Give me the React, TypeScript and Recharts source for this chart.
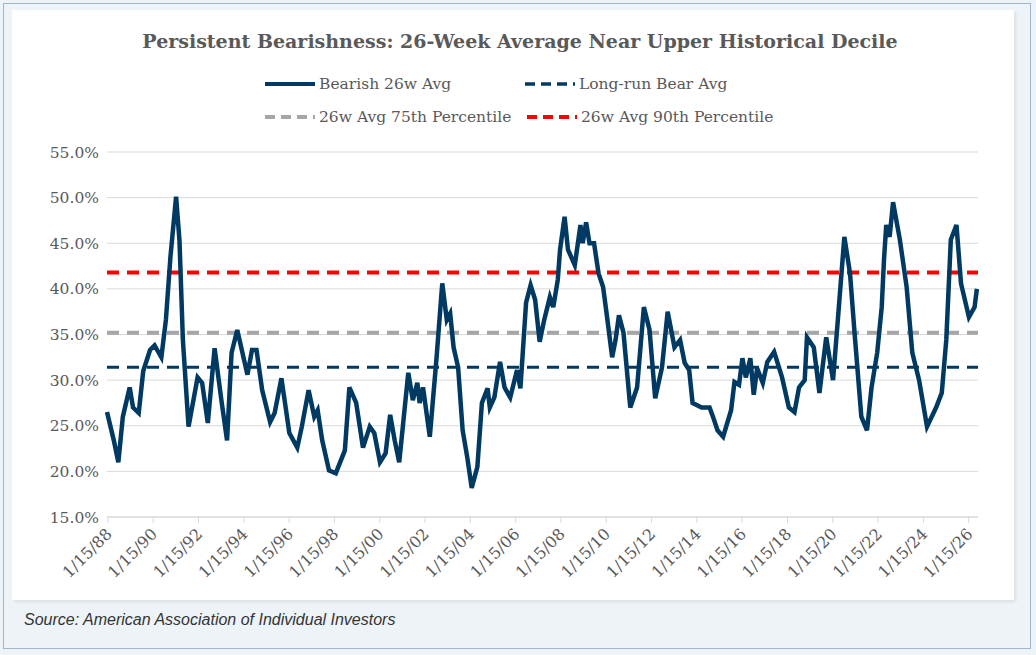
import React from "react";
import {
  CartesianGrid,
  Line,
  LineChart,
  ReferenceLine,
  XAxis,
  YAxis,
} from "recharts";

// dates as fractional years, values in %
const years = [
  1988.0, 1988.3, 1988.5, 1988.7, 1989.0, 1989.15, 1989.4, 1989.6, 1989.9, 1990.1,
  1990.4, 1990.6, 1990.8, 1991.05, 1991.2, 1991.35, 1991.6, 1992.0, 1992.2, 1992.45,
  1992.75, 1993.05, 1993.3, 1993.5, 1993.75, 1994.2, 1994.4, 1994.6, 1994.85, 1995.2,
  1995.4, 1995.7, 1996.05, 1996.4, 1996.6, 1996.9, 1997.15, 1997.3, 1997.5, 1997.8,
  1998.1, 1998.5, 1998.7, 1999.0, 1999.3, 1999.6, 1999.8, 2000.05, 2000.3, 2000.5,
  2000.7, 2000.9, 2001.3, 2001.5, 2001.7, 2001.8, 2001.95, 2002.25, 2002.55, 2002.8,
  2003.0, 2003.15, 2003.3, 2003.5, 2003.7, 2003.9, 2004.1, 2004.35, 2004.55, 2004.8,
  2004.9, 2005.1, 2005.35, 2005.55, 2005.8, 2006.1, 2006.25, 2006.5, 2006.7, 2006.9,
  2007.1, 2007.3, 2007.55, 2007.7, 2007.9, 2008.0, 2008.2, 2008.35, 2008.65, 2008.9,
  2009.0, 2009.15, 2009.3, 2009.5, 2009.7, 2009.9, 2010.05, 2010.3, 2010.45, 2010.6,
  2010.8, 2011.1, 2011.4, 2011.7, 2011.95, 2012.2, 2012.5, 2012.75, 2013.05, 2013.3,
  2013.5, 2013.7, 2013.85, 2014.25, 2014.6, 2014.75, 2014.95, 2015.2, 2015.55, 2015.7,
  2015.9, 2016.05, 2016.2, 2016.4, 2016.55, 2016.7, 2016.95, 2017.15, 2017.45, 2017.8,
  2018.1, 2018.35, 2018.55, 2018.8, 2018.9, 2019.2, 2019.45, 2019.75, 2020.05, 2020.25,
  2020.55, 2020.8, 2021.0, 2021.3, 2021.55, 2021.75, 2022.0, 2022.2, 2022.3, 2022.4,
  2022.55, 2022.7, 2023.0, 2023.3, 2023.55, 2023.85, 2024.2, 2024.6, 2024.85, 2025.05,
  2025.25, 2025.5, 2025.7, 2026.05, 2026.3, 2026.4,
];
const bearish = [
  26.5, 23.4, 21.0, 26.0, 29.2, 27.0, 26.4, 31.0, 33.3, 33.8,
  32.5, 36.6, 43.5, 50.1, 45.3, 34.4, 24.9, 30.3, 29.7, 25.3,
  33.5, 27.8, 23.4, 33.0, 35.5, 30.6, 33.3, 33.3, 28.9, 25.4,
  26.4, 30.2, 24.2, 22.6, 24.9, 28.9, 26.0, 26.7, 23.4, 20.1,
  19.8, 22.3, 29.2, 27.5, 22.6, 24.9, 24.2, 21.0, 22.0, 26.2,
  23.4, 21.0, 30.8, 27.8, 29.7, 27.5, 29.2, 23.8, 32.5, 40.6,
  36.6, 37.3, 33.6, 31.4, 24.5, 21.6, 18.2, 20.5, 27.5, 29.1,
  27.0, 28.1, 32.0, 29.2, 28.1, 31.1, 29.1, 38.5, 40.4, 38.8,
  34.2, 36.6, 39.1, 38.0, 41.0, 44.3, 47.9, 44.3, 42.6, 47.0,
  45.0, 47.3, 45.0, 45.0, 41.7, 40.2, 37.4, 32.5, 34.4, 37.1,
  35.2, 27.0, 29.2, 38.0, 35.5, 28.0, 31.4, 37.5, 33.6, 34.4,
  31.9, 31.1, 27.5, 27.0, 27.0, 26.0, 24.5, 23.8, 26.7, 29.8,
  29.5, 32.4, 30.3, 32.4, 28.4, 31.3, 29.7, 32.0, 33.1, 30.3,
  27.0, 26.5, 29.2, 30.0, 34.7, 33.6, 28.6, 34.7, 30.0, 36.2,
  45.7, 41.7, 35.2, 26.0, 24.5, 29.2, 33.0, 38.0, 43.2, 47.0,
  45.7, 49.5, 45.4, 40.2, 33.0, 30.0, 24.9, 27.0, 28.6, 34.4,
  45.4, 47.0, 40.6, 36.9, 38.0, 40.0,
];
const longRunAvg = 31.4;
const pct75 = 35.2;
const pct90 = 41.8;
const yTicks = [15, 20, 25, 30, 35, 40, 45, 50, 55];
const xTicks = Array.from({ length: 20 }, (_, i) => 1988.04 + i * 2);

const data = years.map((t, i) => ({ t, v: bearish[i] }));

const NAVY = "#003a63";
const GRAY_TXT = "#595959";
const FONT = "'DejaVu Serif', serif";

function XTick({ x, y, payload }: any) {
  const yy = String(Math.round(payload.value - 0.04) % 100).padStart(2, "0");
  return (
    <text
      x={x + 5}
      y={y + 10}
      transform={`rotate(-45 ${x + 5} ${y + 10})`}
      textAnchor="end"
      fill={GRAY_TXT}
      fontSize={16}
      fontFamily={FONT}
    >
      {`1/15/${yy}`}
    </text>
  );
}

function LegendItem({ x, y, color, dash, width, label }: any) {
  return (
    <g>
      <line x1={x} x2={x + 50} y1={y} y2={y} stroke={color} strokeWidth={width} strokeDasharray={dash} />
      <text x={x + 54} y={y + 5} fill={GRAY_TXT} fontSize={15.5} fontFamily={FONT}>
        {label}
      </text>
    </g>
  );
}

export default function App() {
  return (
    <div style={{ position: "absolute", left: 0, top: 0, width: 1036, height: 655, background: "#eef3f8", fontFamily: FONT }}>
      <div style={{ position: "absolute", left: 3, top: 3, width: 1028, height: 646, border: "1px solid #9fb6cf", boxSizing: "border-box" }} />
      <div style={{ position: "absolute", left: 12, top: 10, width: 1002, height: 590, background: "#ffffff", boxShadow: "2px 2px 3px rgba(0,0,0,0.08)" }}>
        <LineChart
          width={1000}
          height={590}
          data={data}
          margin={{ top: 142, right: 34, left: 5, bottom: 0 }}
        >
          <CartesianGrid vertical={false} stroke="#d9d9d9" />
          <XAxis
            dataKey="t"
            type="number"
            domain={[1988.0, 2026.45]}
            ticks={xTicks}
            tick={<XTick />}
            interval={0}
            height={83}
            stroke="#d9d9d9"
            tickLine={{ stroke: "#d9d9d9" }}
          />
          <YAxis
            domain={[15, 55]}
            ticks={yTicks}
            width={90}
            axisLine={false}
            tickLine={false}
            tickFormatter={(v) => `${v.toFixed(1)}%`}
            tick={{ fill: GRAY_TXT, fontSize: 15.5, fontFamily: FONT }}
          />
          <ReferenceLine y={pct75} stroke="#a6a6a6" strokeWidth={4} strokeDasharray="12 8" />
          <ReferenceLine y={longRunAvg} stroke={NAVY} strokeWidth={3} strokeDasharray="12 8" />
          <ReferenceLine y={pct90} stroke="#ff0000" strokeWidth={4} strokeDasharray="12 8" />
          <Line
            dataKey="v"
            stroke={NAVY}
            strokeWidth={4.5}
            dot={false}
            type="linear"
            isAnimationActive={false}
          />
        </LineChart>
        <svg style={{ position: "absolute", left: 0, top: 0 }} width={1002} height={140}>
          <text x={508} y={38} textAnchor="middle" fill={GRAY_TXT} fontSize={19} fontWeight="bold" fontFamily={FONT}>
            Persistent Bearishness: 26-Week Average Near Upper Historical Decile
          </text>
          <LegendItem x={253} y={74} color={NAVY} width={4} label="Bearish 26w Avg" />
          <LegendItem x={513} y={74} color={NAVY} width={3.5} dash="10 6" label="Long-run Bear Avg" />
          <LegendItem x={253} y={107} color="#a6a6a6" width={4} dash="10 6" label="26w Avg 75th Percentile" />
          <LegendItem x={515} y={107} color="#ff0000" width={4} dash="10 6" label="26w Avg 90th Percentile" />
        </svg>
      </div>
      <div style={{ position: "absolute", left: 24, top: 611, fontFamily: "'Liberation Sans', Arial, sans-serif", fontStyle: "italic", fontSize: 16, color: "#333" }}>
        Source: American Association of Individual Investors
      </div>
    </div>
  );
}
